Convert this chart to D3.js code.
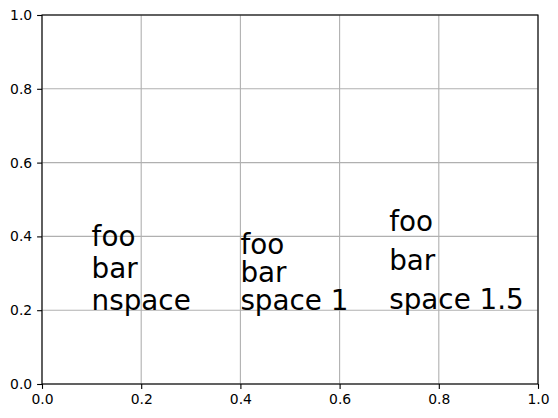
<!DOCTYPE html>
<html><head><meta charset="utf-8">
<script src="https://cdn.jsdelivr.net/npm/d3@7"></script>
<style>body{margin:0;background:#fff}svg{display:block}</style>
</head><body>
<script>
const xTicks = [0.0, 0.2, 0.4, 0.6, 0.8, 1.0];
const yTicks = [0.0, 0.2, 0.4, 0.6, 0.8, 1.0];
const labelX = [0.1, 0.4, 0.7];
const labelY = [0.2, 0.2, 0.2];
const labelText = ["foo\nbar\nnspace", "foo\nbar\nspace 1", "foo\nbar\nspace 1.5"];
const lineSpacing = [1.2, 1.0, 1.5];

const W = 558, H = 418;
const m = {left: 42, right: 20, top: 15, bottom: 34};
const svg = d3.select("body").append("svg").attr("width", W).attr("height", H);
const x = d3.scaleLinear().domain([0, 1]).range([m.left, W - m.right]);
const y = d3.scaleLinear().domain([0, 1]).range([H - m.bottom, m.top]);
const font = "DejaVu Sans, sans-serif";

// grid
svg.append("g").selectAll("line").data(xTicks).join("line")
  .attr("x1", d => x(d)).attr("x2", d => x(d)).attr("y1", y(0)).attr("y2", y(1))
  .attr("stroke", "#b0b0b0").attr("stroke-width", 1.1);
svg.append("g").selectAll("line").data(yTicks).join("line")
  .attr("y1", d => y(d)).attr("y2", d => y(d)).attr("x1", x(0)).attr("x2", x(1))
  .attr("stroke", "#b0b0b0").attr("stroke-width", 1.1);

const fmt = d3.format(".1f");
const xa = svg.append("g").attr("transform", `translate(0,${y(0)})`)
  .call(d3.axisBottom(x).tickValues(xTicks).tickFormat(fmt).tickSize(4.9).tickPadding(4.9));
const ya = svg.append("g").attr("transform", `translate(${x(0)},0)`)
  .call(d3.axisLeft(y).tickValues(yTicks).tickFormat(fmt).tickSize(4.9).tickPadding(4.9));
[xa, ya].forEach(a => {
  a.select(".domain").remove();
  a.selectAll("line").attr("stroke", "#000").attr("stroke-width", 1.1);
  a.selectAll("text").attr("font-family", font).attr("font-size", 13.9).attr("fill", "#000");
});

// spines
svg.append("rect").attr("x", x(0)).attr("y", y(1)).attr("width", x(1) - x(0)).attr("height", y(0) - y(1))
  .attr("fill", "none").attr("stroke", "#000").attr("stroke-width", 1.1);

// multi-line texts (matplotlib-like layout: baseline step = descent + ascent*linespacing)
const asc = 21.6, desc = 6.3;
labelText.forEach((t, i) => {
  const lines = t.split("\n");
  const n = lines.length;
  const ls = lineSpacing[i];
  const step = desc + asc * ls;
  const shift = ls > 1.3 ? 1.7 : 0;
  const txt = svg.append("text").attr("font-family", font).attr("font-size", 27.8).attr("fill", "#000");
  lines.forEach((ln, k) => {
    txt.append("tspan").attr("x", x(labelX[i]))
      .attr("y", y(labelY[i]) - shift - (n - 1 - k) * step)
      .text(ln);
  });
});
</script>
</body></html>
